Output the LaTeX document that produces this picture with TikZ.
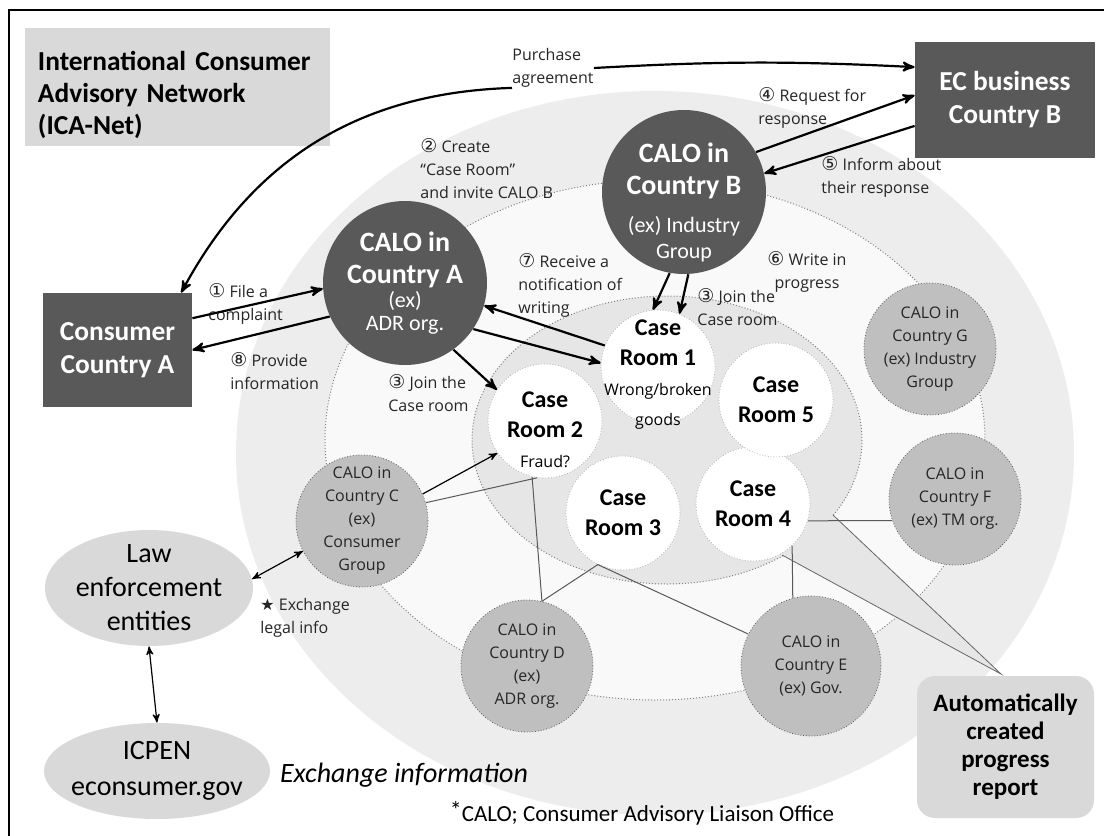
\documentclass[tikz,border=0pt]{standalone}
\usepackage{fontspec}
\setmainfont{Carlito}
\newfontfamily\lblfont{Open Sans}
\newfontfamily\circfont{DejaVu Sans}
\usetikzlibrary{arrows,shapes.geometric}

\definecolor{boxdark}{HTML}{595959}
\definecolor{calogray}{HTML}{BFBFBF}
\definecolor{ringgray}{HTML}{EDEDED}
\definecolor{innergray}{HTML}{F9F9F9}
\definecolor{roomgray}{HTML}{E6E6E6}
\definecolor{softgray}{HTML}{D9D9D9}

\newcommand{\stepnum}[1]{{\circfont\fontsize{9.5}{10}\selectfont #1}}
\newcommand{\smalltxt}{\lblfont\mdseries\fontsize{8}{10}\selectfont}
\newcommand{\midtxt}{\mdseries\fontsize{11}{13}\selectfont}

\tikzset{
    bigbox/.style={rectangle, fill=boxdark, text=white, align=center,
        font=\fontsize{13.7}{16.5}\selectfont\bfseries},
    calomain/.style={circle, fill=boxdark, text=white, align=center,
        minimum size=82pt, inner sep=-8pt, font=\fontsize{14}{16}\selectfont\bfseries},
    calosub/.style={circle, fill=calogray, draw=gray!70!black, densely dotted,
        minimum size=66pt, inner sep=-8pt, align=center, text=black!85,
        font=\lblfont\fontsize{8}{11.5}\selectfont},
    room/.style={circle, fill=white, draw=gray!60, densely dotted,
        minimum size=57pt, inner sep=-10pt, align=center,
        font=\fontsize{12}{15}\selectfont\bfseries},
    softell/.style={ellipse, fill=softgray, align=center, inner sep=-6pt,
        font=\fontsize{14}{17}\selectfont},
    lbl/.style={inner sep=0pt, align=left, text=black!85,
        font=\lblfont\fontsize{8}{11.5}\selectfont},
    flow/.style={->, line width=1.1pt},
    link/.style={draw=gray!70!black, line width=0.5pt},
}

\begin{document}
\begin{tikzpicture}[x=0.5pt, y=-0.5pt, >=stealth']
    \useasboundingbox (0,0) rectangle (1104,836);
    \fill[white] (0,0) rectangle (1104,836);
    \draw[line width=0.8pt] (9,836) -- (9,10) -- (1104,10);

    % Rings {outer, inner, case rooms}
    \fill[ringgray] (655,453) ellipse [x radius=419, y radius=362];
    \filldraw[fill=innergray, draw=gray, densely dotted, line width=0.5pt]
        (655,440) ellipse [x radius=330, y radius=260];
    \filldraw[fill=roomgray, draw=gray, densely dotted, line width=0.5pt]
        (667,440) ellipse [x radius=195, y radius=144];
    \coordinate (tip) at (1001,674);
    \fill[roomgray] (833,515) -- (tip) -- (782,555) -- cycle;
    \draw[gray!80!black, line width=0.4pt] (833,515) -- (tip) -- (782,555);

    % Nodes
    \node [rectangle, fill=softgray, align=left, text width=139.5pt, inner xsep=6.5pt,
        minimum height=58pt, font=\fontsize{13.7}{16}\selectfont\bfseries]
        (title) at (177.5,87) {\rule{0pt}{18pt}International Consumer\\Advisory Network\\(ICA-Net)};
    \node [bigbox, minimum width=74.5pt, minimum height=57pt] (cons) at (117.5,350) {Consumer\\Country A};
    \node [bigbox, minimum width=90pt, minimum height=58pt]   (ecb)  at (1005,100) {EC business\\Country B};

    \node [calomain] (caloa) at (405,283)
        {CALO in\\Country A\\[-4pt]{\midtxt (ex)}\\[-4.5pt]{\midtxt ADR org.}};
    \node [calomain] (calob) at (684,192)
        {\rule{0pt}{20pt}CALO in\\Country B\\[3pt]{\midtxt (ex) Industry}\\[-3pt]{\midtxt Group}};

    \node [room] (r1) at (658,367) {\rule{0pt}{15pt}Case\\Room 1\\{\smalltxt Wrong/broken}\\{\smalltxt goods}};
    \node [room] (r2) at (545,421) {\rule{0pt}{17pt}Case\\Room 2\\{\smalltxt Fraud?}};
    \node [room] (r3) at (623,513) {Case\\Room 3};
    \node [room] (r4) at (753,504) {Case\\Room 4};
    \node [room] (r5) at (776,400) {Case\\Room 5};

    \node [calosub] (caloc) at (362,521) {CALO in\\Country C\\(ex)\\Consumer\\Group};
    \node [calosub] (calod) at (527,666) {CALO in\\Country D\\(ex)\\ADR org.};
    \node [calosub, minimum size=70pt] (caloe) at (811,666) {CALO in\\Country E\\(ex) Gov.};
    \node [calosub] (calof) at (955,499) {CALO in\\Country F\\(ex) TM org.};
    \node [calosub] (calog) at (930,349) {CALO in\\Country G\\(ex) Industry\\Group};

    \node [softell, minimum width=104pt, minimum height=58pt] (law)   at (149,588) {Law\\enforcement\\entities};
    \node [softell, minimum width=113pt, minimum height=48pt, font=\fontsize{14}{18}\selectfont]
        (icpen) at (157,771) {ICPEN\\econsumer.gov};

    \node [rectangle, rounded corners=9pt, fill=softgray, minimum width=88.5pt, minimum height=71pt,
        align=center, font=\fontsize{12.5}{14}\selectfont\bfseries]
        (report) at (1005.5,747) {Automatically\\created\\progress\\report};

    \node [font=\fontsize{14}{16}\selectfont\itshape] (exinfo) at (404,775) {Exchange information};
    \node [font=\fontsize{11.5}{13}\selectfont] (foot) at (642,813) {\raisebox{1.5pt}{\large *}CALO; Consumer Advisory Liaison Office};

    % Labels
    \node [lbl, anchor=west] (purch) at (512,68)  {Purchase\\agreement};
    \node [lbl, anchor=west] (lab2)  at (420,169) {\stepnum{②} Create\\“Case Room”\\and invite CALO B};
    \node [lbl, anchor=west] (lab4)  at (758,108) {\stepnum{④} Request for\\response};
    \node [lbl, anchor=west] (lab5)  at (821,177) {\stepnum{⑤} Inform about\\their response};
    \node [lbl, align=center] (lab6) at (807,272) {\stepnum{⑥} Write in\\progress};
    \node [lbl, anchor=west] (lab7)  at (518,285) {\stepnum{⑦} Receive a\\notification of\\writing};
    \node [lbl, anchor=west] (lab3b) at (697,307) {\stepnum{③} Join the\\Case room};
    \node [lbl, anchor=west] (lab3a) at (388,393) {\stepnum{③} Join the\\Case room};
    \node [lbl, anchor=west] (lab1)  at (208,304) {\stepnum{①} File a\\complaint};
    \node [lbl, anchor=west] (lab8)  at (230,371) {\stepnum{⑧} Provide\\information};
    \node [lbl, anchor=west] (legal) at (260,618) {{\circfont ★} Exchange\\legal info};

    % Paths
    \path [flow] (purch.south west) edge [bend right=30] (cons.42);
    \path [flow] (purch.east)       edge [bend left=3]   (ecb.160);
    \path [flow] (cons.23)     edge (caloa.184);
    \path [flow] (caloa.204)   edge (cons.0);
    \path [flow] (calob.29)    edge (ecb.177);
    \path [flow] (ecb.196)     edge (calob.13);
    \path [flow] (calob.-100)  edge (r1.95);
    \path [flow] (calob.-87)   edge (r1.68);
    \path [flow] (r1.158)      edge (caloa.-16);
    \path [flow] (caloa.-34)   edge (r1.176);
    \path [flow] (caloa.-54)   edge (r2.147);
    \path [->, line width=0.6pt] (caloc.24) edge (r2.214);
    \path [<->, line width=0.6pt] (law.5)   edge (caloc.207);
    \path [<->, line width=0.6pt] (law.south) edge (icpen.north);

    % Links between offices and rooms
    \path [link] (caloc.16)  edge (r2.262);
    \path [link] (r2.257)    edge (calod.77);
    \path [link] (r3.244)    edge (calod.77);
    \path [link] (r3.244)    edge (caloe.153);
    \path [link] (r4.313)    edge (caloe.105);
    \path [link] (r4.-17)    edge (calof.199);
\end{tikzpicture}
\end{document}
